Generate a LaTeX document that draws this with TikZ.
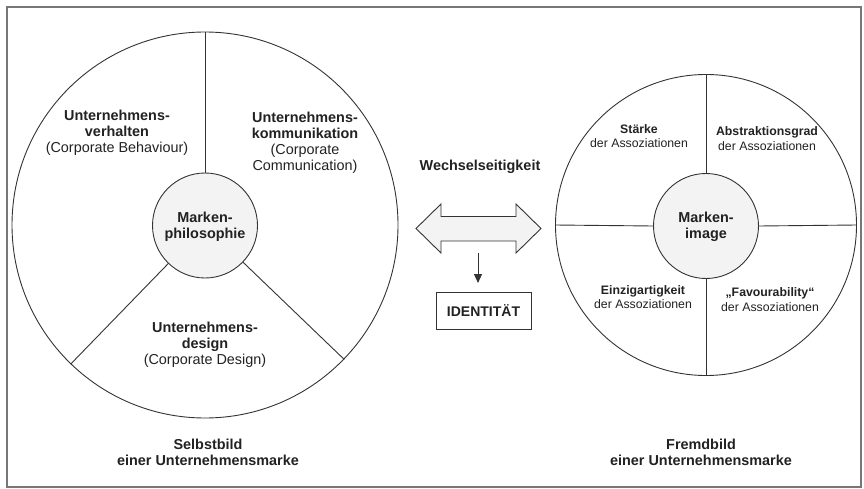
\documentclass[tikz,border=0pt]{standalone}
\usepackage{fontspec}
\setmainfont{Liberation Sans}
\usetikzlibrary{arrows.meta}
\definecolor{ln}{HTML}{333333}
\definecolor{txt}{HTML}{222222}
\definecolor{lfill}{HTML}{F3F3F3}
\definecolor{frm}{HTML}{777777}
\tikzset{
  big/.style={align=center, text=txt, font=\fontsize{14.4}{16}\selectfont},
  small/.style={align=center, text=txt, font=\fontsize{12.3}{14.5}\selectfont},
  ring/.style={circle, draw=ln, line width=0.9pt, inner sep=0pt},
  core/.style={circle, draw=ln, line width=0.9pt, fill=lfill, inner sep=0pt, minimum size=105pt},
  sep/.style={draw=ln, line width=0.9pt},
}
\begin{document}
\begin{tikzpicture}[x=1pt,y=-1pt]
\useasboundingbox (0,0) rectangle (864,489);
\fill[white] (0,0) rectangle (864,489);
\draw[frm, line width=2pt] (7,7) rectangle (861,487);

% left circle
\node[ring, minimum size=386pt] (L) at (205,225) {};
\node[core] (Li) at (205,225.5) {};
\draw[sep] (L.north) -- (Li.north);
\draw[sep] (L.-134) -- (Li.-134);
\draw[sep] (L.-44) -- (Li.-44);
\node[big] (lm) at (205,227) {\textbf{Marken-}\\\textbf{philosophie}};
\node[big] (l1) at (117,133) {\textbf{Unternehmens-}\\\textbf{verhalten}\\(Corporate Behaviour)};
\node[big] (l2) at (305,142.5) {\textbf{Unternehmens-}\\\textbf{kommunikation}\\(Corporate\\Communication)};
\node[big] (l3) at (205,345) {\textbf{Unternehmens-}\\\textbf{design}\\(Corporate Design)};
\node[big] (lc) at (208,452.5) {\textbf{Selbstbild}\\\textbf{einer Unternehmensmarke}};

% right circle
\node[ring, minimum size=301pt] (R) at (706,225) {};
\node[core] (Ri) at (706,226) {};
\draw[sep] (R.north) -- (Ri.north);
\draw[sep] (R.south) -- (Ri.south);
\draw[sep] (R.west) -- (Ri.west);
\draw[sep] (R.east) -- (Ri.east);
\node[big] (rm) at (706,226.5) {\textbf{Marken-}\\\textbf{image}};
\node[small] (r1) at (639,136) {\textbf{Stärke}\\der Assoziationen};
\node[small] (r2) at (767,138.5) {\textbf{Abstraktionsgrad}\\der Assoziationen};
\node[small] (r3) at (643,297) {\textbf{Einzigartigkeit}\\der Assoziationen};
\node[small] (r4) at (770,299.5) {\textbf{„Favourability“}\\der Assoziationen};
\node[big] (rc) at (701,452.5) {\textbf{Fremdbild}\\\textbf{einer Unternehmensmarke}};

% middle
\node[big] (w) at (480,167) {\textbf{Wechselseitigkeit}};
\coordinate (dc) at (478.5,228.5);
\draw[ln, line width=0.9pt, fill=lfill, line join=miter]
  (416,228.5) -- (441,204) -- (441,216.5) -- (516,216.5) -- (516,204)
  -- (541,228.5) -- (516,253) -- (516,241) -- (441,241) -- (441,253) -- cycle;
\node[draw=ln, line width=0.9pt, minimum width=95pt, minimum height=37pt, inner sep=0pt,
  text=txt, font=\fontsize{14}{16}\selectfont\bfseries] (id) at (483.5,310.5) {IDENTITÄT};
\coordinate (a1) at (478,241);
\coordinate (a2) at (478,292);
\draw[ln, line width=0.9pt, -{Triangle[length=9pt,width=8pt]}, shorten <=12pt, shorten >=9pt] (a1) -- (a2);
\end{tikzpicture}
\end{document}
